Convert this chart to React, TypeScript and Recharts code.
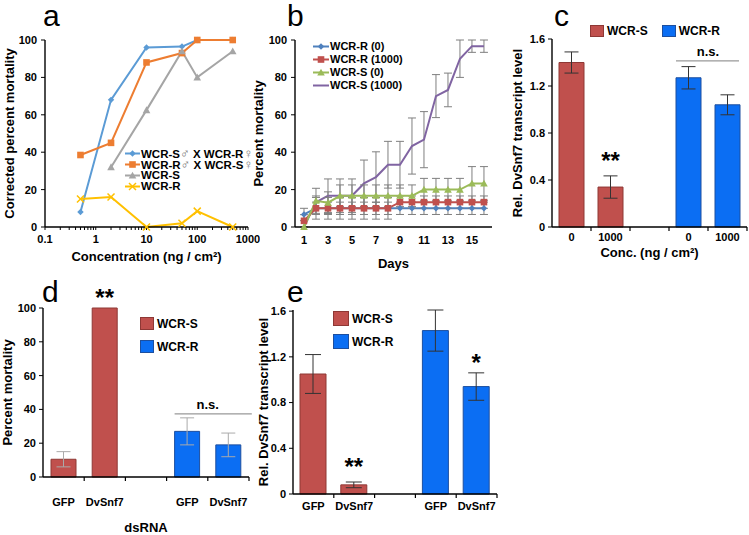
import React from 'react';
import { LineChart, Line, BarChart, Bar, XAxis, YAxis, ErrorBar, Cell, LabelList, Legend, Label } from 'recharts';

const FONT = '"Liberation Sans", Arial, Helvetica, sans-serif';

// ---------- Panel a ----------
const concA = [0.5, 2, 10, 50, 100, 500];
const hybSxR = [8, 68, 96, 96.5, 100, 100];
const hybRxS = [38.5, 45, 88, 93, 100, 100];
const susA = [null, 32, 62.5, 94, 80, 94];
const resA = [15, 16, 0, 2, 8.5, 0];
const logTicksA = [0.1, 0.2, 0.3, 0.4, 0.5, 0.6, 0.7, 0.8, 0.9, 1, 2, 3, 4, 5, 6, 7, 8, 9, 10, 20, 30, 40, 50, 60, 70, 80, 90, 100, 200, 300, 400, 500, 600, 700, 800, 900, 1000];
const logLabelsA = [0.1, 1, 10, 100, 1000];
const pctTicks = [0, 20, 40, 60, 80, 100];

// ---------- Panel b ----------
const days = [1, 2, 3, 4, 5, 6, 7, 8, 9, 10, 11, 12, 13, 14, 15, 16];
const dayTicks = [1, 2, 3, 4, 5, 6, 7, 8, 9, 10, 11, 12, 13, 14, 15, 16];
const rCtrl = [6.7, 10, 10, 10, 10, 10, 10, 10, 10, 10, 10, 10, 10, 10, 10, 10];
const rCtrlErr = [3.3, 3.3, 3.3, 3.3, 3.3, 3.3, 3.3, 3.3, 3.3, 3.3, 3.3, 3.3, 3.3, 3.3, 3.3, 3.3];
const rTrt = [3.3, 10, 10, 10, 10, 10, 10, 10, 13.3, 13.3, 13.3, 13.3, 13.3, 13.3, 13.3, 13.3];
const rTrtErr = [3.3, 5.8, 5.8, 5.8, 5.8, 5.8, 5.8, 5.8, 3.3, 3.3, 3.3, 3.3, 3.3, 3.3, 3.3, 3.3];
const sCtrl = [0, 14, 13, 16.7, 16.7, 16.7, 16.7, 16.7, 16.7, 16.7, 20, 20, 20, 20, 23.3, 23.3];
const sCtrlErr = [0, 6.7, 5.8, 5.8, 5.8, 5.8, 5.8, 5.8, 5.8, 5.8, 6, 6, 6, 6, 9, 9];
const sTrt = [0, 13.3, 16.7, 16.7, 16.7, 23.3, 26.7, 33.3, 33.3, 43.3, 46.7, 70, 73.3, 90, 96.7, 96.7];
const sTrtErr = [0, 3.3, 9, 9, 9, 12.5, 13.5, 12.5, 12.5, 15, 15, 11.5, 9, 10, 3.3, 3.3];

// ---------- Panel c ----------
const cLabels = ['0', '1000', '', '0', '1000'];
const cValues = [1.4, 0.34, null, 1.27, 1.04];
const cErr = [0.09, 0.095, null, 0.095, 0.085];
const cGroup = ['S', 'S', null, 'R', 'R'];
const cSig = ['', '**', '', '', ''];
const relTicks = [0, 0.4, 0.8, 1.2, 1.6];

// ---------- Panel d ----------
const dLabels = ['GFP', 'DvSnf7', '', 'GFP', 'DvSnf7'];
const dValues = [10.5, 100, null, 27, 19];
const dErr = [4.5, null, null, 8, 7];
const dGroup = ['S', 'S', null, 'R', 'R'];
const dSig = ['', '**', '', '', ''];

// ---------- Panel e ----------
const eLabels = ['GFP', 'DvSnf7', '', 'GFP', 'DvSnf7'];
const eValues = [1.05, 0.08, null, 1.43, 0.94];
const eErr = [0.17, 0.025, null, 0.18, 0.12];
const eGroup = ['S', 'S', null, 'R', 'R'];
const eSig = ['', '**', '', '', '*'];

const RED = '#c0504d';
const RED_EDGE = '#8e3835';
const BLUE = '#0b6ef3';
const BLUE_EDGE = '#1d4f9f';

const tickStyle = { fontSize: 11, fontWeight: 700, fill: '#000', fontFamily: FONT };
const axisLine = { stroke: '#000', strokeWidth: 1.4 };
const titleProps = { fontSize: 13, fontWeight: 700, fill: '#000', fontFamily: FONT };

function Marker({ cx, cy, kind, color }: any) {
  if (cx == null || cy == null || isNaN(cx) || isNaN(cy)) return <g />;
  if (kind === 'diamond') {
    const s = 3.2;
    return <path d={`M${cx},${cy - s}L${cx + s},${cy}L${cx},${cy + s}L${cx - s},${cy}Z`} fill={color} />;
  }
  if (kind === 'square') {
    const s = 3.3;
    return <rect x={cx - s} y={cy - s} width={2 * s} height={2 * s} fill={color} />;
  }
  if (kind === 'triangle') {
    const s = 3.8;
    return <path d={`M${cx},${cy - s}L${cx + s},${cy + s * 0.8}L${cx - s},${cy + s * 0.8}Z`} fill={color} />;
  }
  if (kind === 'x') {
    const s = 3.5;
    return (
      <g stroke={color} strokeWidth={1.5}>
        <line x1={cx - s} y1={cy - s} x2={cx + s} y2={cy + s} />
        <line x1={cx - s} y1={cy + s} x2={cx + s} y2={cy - s} />
      </g>
    );
  }
  return <g />;
}

const dotFor = (kind: string, color: string) => (p: any) => (
  <Marker key={`d-${p.index}`} cx={p.cx} cy={p.cy} kind={kind} color={color} />
);

function LineLegend({ items, rowH, lineW, fontSize }: any) {
  return (
    <div style={{ fontFamily: FONT, fontSize, fontWeight: 700, color: '#000', display: 'inline-block' }}>
      {items.map((it: any) => (
        <div key={it.key} style={{ display: 'flex', alignItems: 'center', height: rowH, whiteSpace: 'nowrap' }}>
          <svg width={lineW} height={rowH} style={{ display: 'block' }}>
            <line x1={0} x2={lineW} y1={rowH / 2} y2={rowH / 2} stroke={it.color} strokeWidth={2} />
            <Marker cx={lineW / 2} cy={rowH / 2} kind={it.kind} color={it.color} />
          </svg>
          <span style={{ marginLeft: 1, lineHeight: `${rowH}px` }}>{it.parts.map((pt: any, k: number) => (
            typeof pt === 'string' ? <span key={k}>{pt}</span> : <span key={k} style={{ color: '#777', fontWeight: 400, fontSize: 13 }}>{pt.sym}</span>
          ))}</span>
        </div>
      ))}
    </div>
  );
}

function BarLegend({ horizontal, sq, gap, rowH }: any) {
  const items = [
    { name: 'WCR-S', fill: RED, edge: RED_EDGE },
    { name: 'WCR-R', fill: BLUE, edge: BLUE_EDGE },
  ];
  return (
    <div style={{ display: 'flex', flexDirection: horizontal ? 'row' : 'column', fontFamily: FONT, fontSize: 12, fontWeight: 700, color: '#000' }}>
      {items.map((it) => (
        <div key={it.name} style={{ display: 'flex', alignItems: 'center', height: rowH, marginRight: horizontal ? gap : 0, whiteSpace: 'nowrap' }}>
          <svg width={sq[0]} height={sq[1]} style={{ display: 'block' }}>
            <rect x={0.5} y={0.5} width={sq[0] - 1} height={sq[1] - 1} fill={it.fill} stroke={it.edge} strokeWidth={1} />
          </svg>
          <span style={{ marginLeft: 3 }}>{it.name}</span>
        </div>
      ))}
    </div>
  );
}

function makeCatTick(labels: string[], band: number, margin: number) {
  return (props: any) => {
    const { x, y, index } = props;
    const axisY = y - margin;
    return (
      <g>
        <line x1={x + band / 2} x2={x + band / 2} y1={axisY} y2={axisY + 4} stroke="#000" strokeWidth={1.2} />
        <text x={x} y={y} dy="0.71em" textAnchor="middle" fontSize={11} fontWeight={700} fill="#000" fontFamily={FONT}>{labels[index]}</text>
      </g>
    );
  };
}

function makeAnnot(cfg: any) {
  return (p: any) => {
    const vb = p.viewBox || {};
    const x = p.x ?? vb.x;
    const y = p.y ?? vb.y;
    const width = p.width ?? vb.width;
    const height = p.height ?? vb.height;
    const i = Number(p.value);
    const v = cfg.values[i];
    if (v == null || !v || x == null || isNaN(i)) return <g />;
    const ppu = height / v;
    const bottom = y + height;
    const err = cfg.errs[i] || 0;
    const s = cfg.sigs[i];
    const parts: any[] = [];
    if (s) {
      parts.push(
        <text key="s" x={x + width / 2} y={y - err * ppu - (s === '*' ? cfg.gap1 : cfg.gap2)} textAnchor="middle" fontSize={24} fontWeight={700} fill="#000" fontFamily={FONT}>{s}</text>
      );
    }
    if (i === cfg.nsIndex) {
      const ly = bottom - cfg.nsLevel * ppu;
      parts.push(<line key="l" x1={x} x2={x + cfg.band + width + cfg.nsExtra} y1={ly} y2={ly} stroke="#999" strokeWidth={1.3} />);
      parts.push(<text key="t" x={x + cfg.band / 2 + width / 2} y={ly - 5} textAnchor="middle" fontSize={13} fontWeight={700} fill="#000" fontFamily={FONT}>n.s.</text>);
    }
    return <g>{parts}</g>;
  };
}

function PanelA() {
  const data = concA.map((c, i) => ({ conc: c, sxr: hybSxR[i], rxs: hybRxS[i], s: susA[i], r: resA[i] }));
  const legendItems = [
    { key: 'a1', color: '#5b9bd5', kind: 'diamond', parts: ['WCR-S', { sym: '♂' }, ' X WCR-R', { sym: '♀' }] },
    { key: 'a2', color: '#ed7d31', kind: 'square', parts: ['WCR-R', { sym: '♂' }, ' X WCR-S', { sym: '♀' }] },
    { key: 'a3', color: '#a5a5a5', kind: 'triangle', parts: ['WCR-S'] },
    { key: 'a4', color: '#ffc000', kind: 'x', parts: ['WCR-R'] },
  ];
  return (
    <div style={{ position: 'absolute', left: 0, top: 0 }}>
      <LineChart width={260} height={270} data={data} margin={{ top: 40, right: 12, left: 0, bottom: 0 }}>
        <XAxis dataKey="conc" type="number" scale="log" domain={[0.1, 1000]} allowDataOverflow ticks={logTicksA} interval={0}
          tickFormatter={(v: number) => (logLabelsA.includes(v) ? String(v) : '')}
          tick={tickStyle} axisLine={axisLine} tickLine={{ stroke: '#000' }} tickSize={3} tickMargin={5} height={43}>
          <Label value="Concentration (ng / cm²)" position="insideBottom" offset={9} {...titleProps} />
        </XAxis>
        <YAxis type="number" domain={[0, 100]} ticks={pctTicks} interval={0} tick={tickStyle} axisLine={axisLine}
          tickLine={{ stroke: '#000' }} tickSize={4} tickMargin={4} width={45}>
          <Label value="Corrected percent mortality" angle={-90} position="insideLeft" offset={9} style={{ textAnchor: 'middle' }} {...titleProps} />
        </YAxis>
        <Legend layout="vertical" align="center" verticalAlign="middle"
          wrapperStyle={{ left: 125, top: 148, width: 'auto', height: 'auto' }}
          content={() => <LineLegend items={legendItems} rowH={11} lineW={15} fontSize={11.5} />} />
        <Line dataKey="sxr" stroke="#5b9bd5" strokeWidth={2} dot={dotFor('diamond', '#5b9bd5')} activeDot={false} isAnimationActive={false} />
        <Line dataKey="rxs" stroke="#ed7d31" strokeWidth={2} dot={dotFor('square', '#ed7d31')} activeDot={false} isAnimationActive={false} />
        <Line dataKey="s" stroke="#a5a5a5" strokeWidth={2} dot={dotFor('triangle', '#a5a5a5')} activeDot={false} isAnimationActive={false} />
        <Line dataKey="r" stroke="#ffc000" strokeWidth={2} dot={dotFor('x', '#ffc000')} activeDot={false} isAnimationActive={false} />
      </LineChart>
    </div>
  );
}

function PanelB() {
  const data = days.map((d, i) => ({
    day: d, rc: rCtrl[i], rcE: rCtrlErr[i], rt: rTrt[i], rtE: rTrtErr[i],
    sc: sCtrl[i], scE: sCtrlErr[i], st: sTrt[i], stE: sTrtErr[i],
  }));
  const legendItems = [
    { key: 'b1', color: '#4f81bd', kind: 'diamond', parts: ['WCR-R (0)'] },
    { key: 'b2', color: '#c0504d', kind: 'square', parts: ['WCR-R (1000)'] },
    { key: 'b3', color: '#9bbb59', kind: 'triangle', parts: ['WCR-S (0)'] },
    { key: 'b4', color: '#8064a2', kind: 'none', parts: ['WCR-S (1000)'] },
  ];
  const eb = { stroke: '#7f7f7f', strokeWidth: 1, width: 4 };
  return (
    <div style={{ position: 'absolute', left: 250, top: 0 }}>
      <LineChart width={250} height={280} data={data} margin={{ top: 40, right: 8, left: 0, bottom: 0 }}>
        <XAxis dataKey="day" type="number" domain={[0.25, 16.67]} allowDataOverflow ticks={dayTicks} interval={0}
          tickFormatter={(v: number) => (v % 2 === 1 ? String(v) : '')}
          tick={tickStyle} axisLine={axisLine} tickLine={false} tickSize={0} tickMargin={9} height={53}>
          <Label value="Days" position="insideBottom" offset={12} {...titleProps} />
        </XAxis>
        <YAxis type="number" domain={[0, 100]} ticks={pctTicks} interval={0} tick={tickStyle} axisLine={axisLine}
          tickLine={{ stroke: '#000' }} tickSize={4} tickMargin={4} width={45}>
          <Label value="Percent mortality" angle={-90} position="insideLeft" offset={8} style={{ textAnchor: 'middle' }} {...titleProps} />
        </YAxis>
        <Legend layout="vertical" align="center" verticalAlign="middle"
          wrapperStyle={{ left: 63, top: 40, width: 'auto', height: 'auto' }}
          content={() => <LineLegend items={legendItems} rowH={13} lineW={16} fontSize={11} />} />
        <Line dataKey="st" stroke="#8064a2" strokeWidth={2} dot={false} activeDot={false} isAnimationActive={false}>
          <ErrorBar dataKey="stE" direction="y" {...eb} isAnimationActive={false} />
        </Line>
        <Line dataKey="rc" stroke="#4f81bd" strokeWidth={2} dot={dotFor('diamond', '#4f81bd')} activeDot={false} isAnimationActive={false}>
          <ErrorBar dataKey="rcE" direction="y" {...eb} isAnimationActive={false} />
        </Line>
        <Line dataKey="rt" stroke="#c0504d" strokeWidth={2} dot={dotFor('square', '#c0504d')} activeDot={false} isAnimationActive={false}>
          <ErrorBar dataKey="rtE" direction="y" {...eb} isAnimationActive={false} />
        </Line>
        <Line dataKey="sc" stroke="#9bbb59" strokeWidth={2} dot={dotFor('triangle', '#9bbb59')} activeDot={false} isAnimationActive={false}>
          <ErrorBar dataKey="scE" direction="y" {...eb} isAnimationActive={false} />
        </Line>
      </LineChart>
    </div>
  );
}

function BarPanel({ left, top, width, height, margin, yWidth, xHeight, labels, values, errs, groups, sigs, yDomain, yTicks, yFmt,
  yTitle, yTitleOffset, xTitle, xTitleOffset, tickMargin, band, errColor, errWidth, barSize, legend, nsIndex, nsLevel, nsExtra, gap1, gap2 }: any) {
  const data = labels.map((l: string, i: number) => ({ label: l, value: values[i], err: errs[i], idx: i }));
  const annot = makeAnnot({ values, errs, sigs, nsIndex, nsLevel, nsExtra, band, gap1, gap2 });
  return (
    <div style={{ position: 'absolute', left, top }}>
      <BarChart width={width} height={height} data={data} margin={margin}>
        <XAxis dataKey="label" type="category" interval={0} axisLine={axisLine} tickLine={false} tickSize={0} tickMargin={tickMargin}
          tick={makeCatTick(labels, band, tickMargin)} height={xHeight}>
          {xTitle ? <Label value={xTitle} position="insideBottom" offset={xTitleOffset} {...titleProps} /> : null}
        </XAxis>
        <YAxis type="number" domain={yDomain} ticks={yTicks} interval={0} tickFormatter={yFmt} tick={tickStyle} axisLine={axisLine}
          tickLine={{ stroke: '#000' }} tickSize={4} tickMargin={3} width={yWidth}>
          <Label value={yTitle} angle={-90} position="insideLeft" offset={yTitleOffset} style={{ textAnchor: 'middle' }} {...titleProps} />
        </YAxis>
        <Legend layout="vertical" align="center" verticalAlign="middle"
          wrapperStyle={{ left: legend.left, top: legend.top, width: 'auto', height: 'auto' }}
          content={() => <BarLegend horizontal={legend.horizontal} sq={legend.sq} gap={legend.gap} rowH={legend.rowH} />} />
        <Bar dataKey="value" barSize={barSize} isAnimationActive={false}>
          {data.map((d: any, i: number) => (
            <Cell key={`c-${i}`} fill={groups[i] === 'S' ? RED : BLUE} stroke={groups[i] === 'S' ? RED_EDGE : BLUE_EDGE} strokeWidth={1} />
          ))}
          <ErrorBar dataKey="err" direction="y" stroke={errColor} strokeWidth={1} width={errWidth} isAnimationActive={false} />
          <LabelList dataKey="idx" content={annot} />
        </Bar>
      </BarChart>
    </div>
  );
}

const fmtRel = (v: number) => (v === 0 ? '0' : v.toFixed(1));

export default function App() {
  return (
    <div style={{ position: 'fixed', left: 0, top: 0, width: 749, height: 535, background: '#fff', overflow: 'hidden', fontFamily: FONT }}>
      <PanelA />
      <PanelB />
      <BarPanel left={490} top={0} width={259} height={270} margin={{ top: 39, right: 2, left: 0, bottom: 0 }} yWidth={62} xHeight={43}
        labels={cLabels} values={cValues} errs={cErr} groups={cGroup} sigs={cSig} yDomain={[0, 1.6]} yTicks={relTicks} yFmt={fmtRel}
        yTitle="Rel. DvSnf7 transcript level" yTitleOffset={27} xTitle="Conc. (ng / cm²)" xTitleOffset={13}
        tickMargin={6} band={39} errColor="#333" errWidth={7} barSize={25}
        legend={{ left: 100, top: 24, horizontal: true, sq: [14, 12], gap: 14, rowH: 13 }}
        nsIndex={3} nsLevel={1.413} nsExtra={-1} gap1={2} gap2={7} />
      <BarPanel left={0} top={260} width={260} height={275} margin={{ top: 48, right: 11, left: 0, bottom: 0 }} yWidth={43} xHeight={58}
        labels={dLabels} values={dValues} errs={dErr} groups={dGroup} sigs={dSig} yDomain={[0, 100]} yTicks={pctTicks} yFmt={(v: number) => String(v)}
        yTitle="Percent mortality" yTitleOffset={7} xTitle="dsRNA" xTitleOffset={3}
        tickMargin={21} band={41.2} errColor="#aaa" errWidth={7} barSize={25}
        legend={{ left: 140, top: 52, horizontal: false, sq: [14, 13], gap: 0, rowH: 23 }}
        nsIndex={3} nsLevel={37.3} nsExtra={11} gap1={2} gap2={2} />
      <BarPanel left={250} top={260} width={260} height={275} margin={{ top: 50, right: 13, left: 0, bottom: 0 }} yWidth={43} xHeight={41}
        labels={eLabels} values={eValues} errs={eErr} groups={eGroup} sigs={eSig} yDomain={[0, 1.6]} yTicks={relTicks} yFmt={fmtRel}
        yTitle="Rel. DvSnf7 transcript level" yTitleOffset={13} xTitle="" xTitleOffset={0}
        tickMargin={8} band={40.8} errColor="#333" errWidth={8} barSize={26}
        legend={{ left: 83, top: 47, horizontal: false, sq: [16, 15], gap: 0, rowH: 23 }}
        nsIndex={-1} nsLevel={0} nsExtra={0} gap1={2} gap2={7} />
      <svg width={749} height={535} style={{ position: 'absolute', left: 0, top: 0, pointerEvents: 'none' }}>
        <g fontFamily={FONT} fontSize={30} fill="#000">
          <text x={43} y={26}>a</text>
          <text x={287} y={26}>b</text>
          <text x={554} y={26}>c</text>
          <text x={42} y={302}>d</text>
          <text x={287} y={302}>e</text>
        </g>
      </svg>
    </div>
  );
}
